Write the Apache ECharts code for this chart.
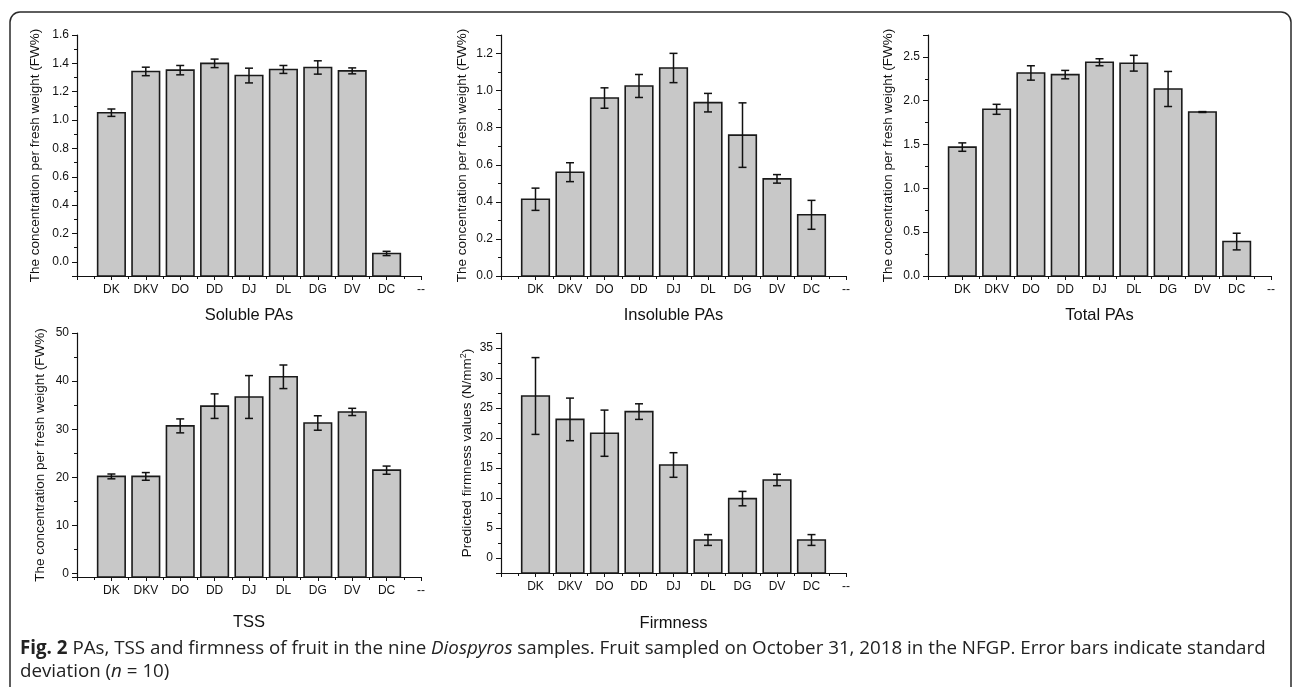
<!DOCTYPE html>
<html><head><meta charset="utf-8">
<script src="https://cdn.jsdelivr.net/npm/echarts@6/dist/echarts.min.js"></script>
<style>html,body{margin:0;padding:0;background:#fff}#c{width:1293px;height:687px}</style>
</head><body><div id="c"></div>
<script>
// ---- data ----
const categories = ['DK','DKV','DO','DD','DJ','DL','DG','DV','DC'];
const endLabel = '--';
const solubleMean   = [1.052,1.343,1.352,1.400,1.314,1.357,1.371,1.347,0.059];
const solubleSD     = [0.026,0.030,0.033,0.030,0.052,0.028,0.047,0.021,0.015];
const insolubleMean = [0.414,0.560,0.960,1.025,1.122,0.935,0.760,0.524,0.330];
const insolubleSD   = [0.060,0.051,0.055,0.062,0.079,0.050,0.174,0.023,0.078];
const totalMean     = [1.471,1.902,2.317,2.298,2.439,2.428,2.134,1.871,0.393];
const totalSD       = [0.048,0.057,0.082,0.048,0.040,0.090,0.200,0.005,0.095];
const tssMean       = [20.2,20.2,30.7,34.8,36.7,40.9,31.3,33.6,21.5];
const tssSD         = [0.5,0.8,1.45,2.55,4.45,2.45,1.5,0.75,0.85];
const firmMean      = [27.0,23.1,20.8,24.4,15.5,3.0,9.9,13.0,3.0];
const firmSD        = [6.4,3.55,3.85,1.3,2.05,0.9,1.2,0.95,0.9];
const panelTitles = ['Soluble PAs','Insoluble PAs','Total PAs','TSS','Firmness'];
const yNameConc = 'The concentration per fresh weight (FW%)';

// ---- layout ----
const FONT = '"Liberation Sans", Arial, sans-serif';
const panels = [
  {mean: solubleMean, sd: solubleSD, title: panelTitles[0], grid:{left:77, right:872, top:35, bottom:411},
   y:{min:-0.1, max:1.6, splitNumber:8, dec:1, showMin:false, showMax:true}, yName: yNameConc, nameGap:35, titleGap:31},
  {mean: insolubleMean, sd: insolubleSD, title: panelTitles[1], grid:{left:501, right:447, top:35, bottom:411},
   y:{min:0, max:1.3, interval:0.2, dec:1, showMin:true, showMax:false}, yName: yNameConc, nameGap:32, titleGap:31},
  {mean: totalMean, sd: totalSD, title: panelTitles[2], grid:{left:928, right:22, top:35, bottom:411},
   y:{min:0, max:2.75, interval:0.5, dec:1, showMin:true, showMax:false}, yName: yNameConc, nameGap:33, titleGap:31},
  {mean: tssMean, sd: tssSD, title: panelTitles[3], grid:{left:77, right:872, top:333, bottom:110},
   y:{min:-0.7, max:50, splitNumber:5, dec:0, showMin:false, showMax:true}, yName: yNameConc, nameGap:30, titleGap:37},
  {mean: firmMean, sd: firmSD, title: panelTitles[4], grid:{left:501, right:447, top:333, bottom:114},
   y:{min:-2.5, max:37.5, splitNumber:8, dec:0, showMin:false, showMax:false}, yName: '{n|Predicted firmness values (N/mm}{s|2}{n|)}', nameGap:25, titleGap:42}
];

function makeRender(base){
  return function(params, api){
    const x = api.value(0), v = api.value(1), sd = api.value(2);
    const w = api.size([1,0])[0]*0.8;
    const top = api.coord([x, v]);
    const bot = api.coord([x, base]);
    const hi = api.coord([x, v+sd]);
    const lo = api.coord([x, v-sd]);
    const cap = 4;
    const ls = {stroke:'#111', lineWidth:1.5};
    return {type:'group', children:[
      {type:'rect', shape:{x: top[0]-w/2, y: top[1], width: w, height: bot[1]-top[1]}, style:{fill:'#c8c8c8', stroke:'#1a1a1a', lineWidth:1.6}},
      {type:'line', shape:{x1:hi[0], y1:hi[1], x2:lo[0], y2:lo[1]}, style:ls},
      {type:'line', shape:{x1:hi[0]-cap, y1:hi[1], x2:hi[0]+cap, y2:hi[1]}, style:ls},
      {type:'line', shape:{x1:lo[0]-cap, y1:lo[1], x2:lo[0]+cap, y2:lo[1]}, style:ls}
    ]};
  };
}

const grids = [], xAxes = [], yAxes = [], series = [];
panels.forEach((p, i) => {
  grids.push(Object.assign({containLabel:false}, p.grid));
  xAxes.push({
    type:'value', gridIndex:i, min:0, max:categories.length+1, interval:1,
    name: p.title, nameLocation:'middle', nameGap:p.titleGap,
    nameTextStyle:{fontFamily:FONT, fontSize:16.5, color:'#111'},
    axisLine:{onZero:false, lineStyle:{color:'#111', width:1.2}},
    axisTick:{show:true, inside:false, length:4, lineStyle:{color:'#111', width:1}},
    minorTick:{show:true, splitNumber:2, length:3, lineStyle:{color:'#111', width:1}},
    splitLine:{show:false}, minorSplitLine:{show:false},
    axisLabel:{fontFamily:FONT, fontSize:12, color:'#111', margin:8,
      formatter: v => v === 0 ? '' : (v === categories.length+1 ? endLabel : categories[v-1])}
  });
  const ya = {
    type:'value', gridIndex:i, min:p.y.min, max:p.y.max,
    name: p.yName, nameLocation:'middle', nameGap:p.nameGap,
    nameTextStyle:{fontFamily:FONT, fontSize:13.5, color:'#111',
      rich:{n:{fontFamily:FONT, fontSize:13.5, color:'#111'}, s:{fontFamily:FONT, fontSize:9, color:'#111', verticalAlign:'top', padding:[0,0,8,0]}}},
    axisLine:{show:true, onZero:false, lineStyle:{color:'#111', width:1.2}},
    axisTick:{show:true, inside:false, length:5, lineStyle:{color:'#111', width:1}},
    minorTick:{show:true, splitNumber:2, length:3, lineStyle:{color:'#111', width:1}},
    splitLine:{show:false}, minorSplitLine:{show:false},
    axisLabel:{fontFamily:FONT, fontSize:12, color:'#111', margin:8, showMinLabel:p.y.showMin, showMaxLabel:p.y.showMax,
      formatter: v => Number(v).toFixed(p.y.dec)}
  };
  if (p.y.interval) ya.interval = p.y.interval; else ya.splitNumber = p.y.splitNumber;
  yAxes.push(ya);
  series.push({
    type:'custom', xAxisIndex:i, yAxisIndex:i,
    renderItem: makeRender(p.y.min),
    encode:{x:0, y:1},
    data: categories.map((c, k) => [k+1, p.mean[k], p.sd[k]]),
    silent:true, clip:false
  });
});

const CAPFONT = '"Open Sans", "Noto Sans", sans-serif';
const CAPSIZE = 18.75;
const chart = echarts.init(document.getElementById('c'), null, {renderer:'canvas'});
chart.setOption({
  backgroundColor:'#fff',
  animation:false,
  grid: grids, xAxis: xAxes, yAxis: yAxes, series: series,
  graphic:[
    {type:'rect', shape:{x:10, y:12, width:1281, height:720, r:10}, style:{fill:'none', stroke:'#2a2a2a', lineWidth:1.5}, silent:true},
    {type:'text', left:20, top:639, style:{
      text:'{b|Fig. 2} {n|PAs, TSS and firmness of fruit in the nine }{i|Diospyros}{n| samples. Fruit sampled on October 31, 2018 in the NFGP. Error bars indicate standard}',
      rich:{
        b:{fontFamily:CAPFONT, fontSize:CAPSIZE, fontWeight:'bold', fill:'#222'},
        n:{fontFamily:CAPFONT, fontSize:CAPSIZE, fill:'#222'},
        i:{fontFamily:CAPFONT, fontSize:CAPSIZE, fontStyle:'italic', fill:'#222'}
      }, fontFamily:CAPFONT, fontSize:CAPSIZE, fill:'#222'}},
    {type:'text', left:20, top:662, style:{
      text:'{n|deviation (}{i|n}{n| = 10)}',
      rich:{
        n:{fontFamily:CAPFONT, fontSize:CAPSIZE, fill:'#222'},
        i:{fontFamily:CAPFONT, fontSize:CAPSIZE, fontStyle:'italic', fill:'#222'}
      }, fontFamily:CAPFONT, fontSize:CAPSIZE, fill:'#222'}}
  ]
});
</script>
</body></html>
